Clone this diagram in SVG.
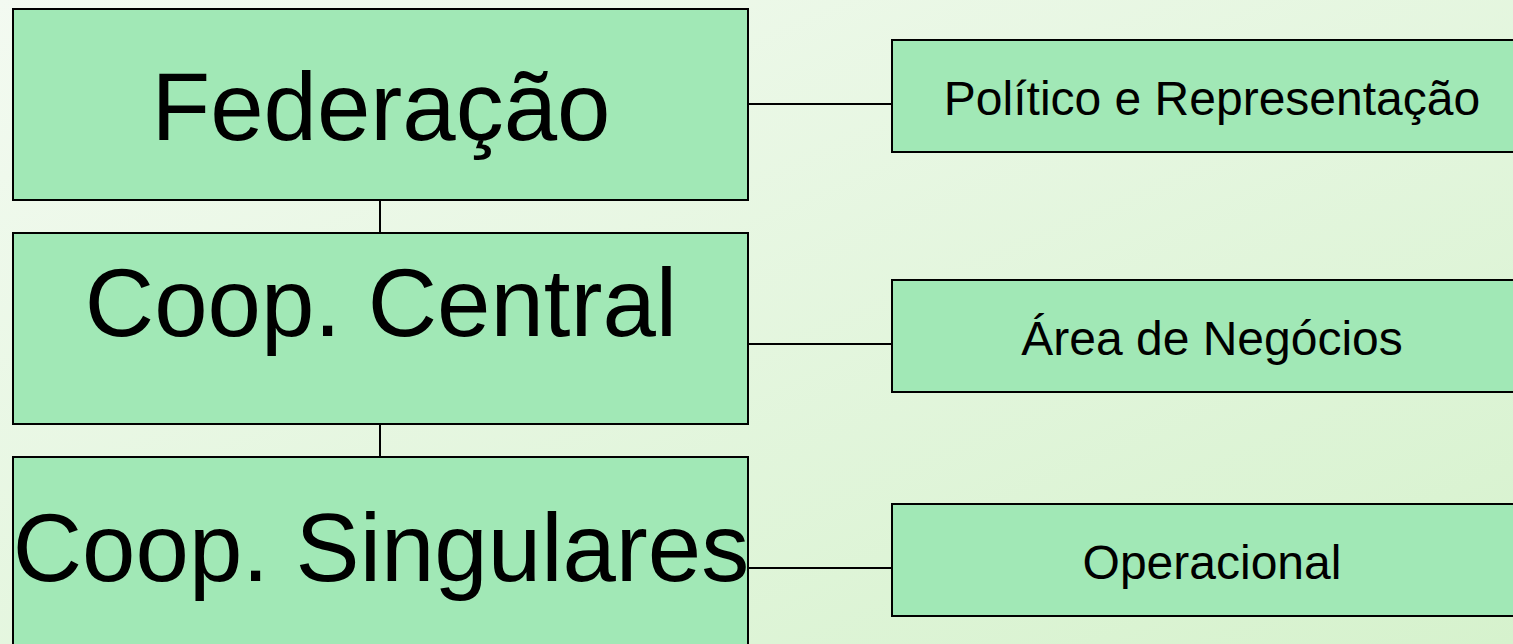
<svg xmlns="http://www.w3.org/2000/svg" width="1513" height="644" viewBox="0 0 1513 644">
<defs>
<linearGradient id="bg" x1="0" y1="0" x2="1" y2="1">
<stop offset="0" stop-color="#f3faf1"/>
<stop offset="1" stop-color="#d6f2cd"/>
</linearGradient>
</defs>
<style>
.box{fill:#a1e8b6;stroke:#000;stroke-width:2}
.big{font-family:"Liberation Sans",Arial,sans-serif;font-size:96px;fill:#000;text-anchor:middle}
.small{font-family:"Liberation Sans",Arial,sans-serif;font-size:48px;fill:#000;text-anchor:middle}
.conn{stroke:#000;stroke-width:2;fill:none}
</style>
<rect x="0" y="0" width="1513" height="644" fill="url(#bg)"/>
<g id="connectors">
<line class="conn" x1="380" y1="200" x2="380" y2="233"/>
<line class="conn" x1="380" y1="424" x2="380" y2="457"/>
<line class="conn" x1="748" y1="104" x2="892" y2="104"/>
<line class="conn" x1="748" y1="344" x2="892" y2="344"/>
<line class="conn" x1="748" y1="568" x2="892" y2="568"/>
</g>
<g id="federacao">
<rect class="box" x="13" y="9" width="735" height="191"/>
<text class="big" x="381" y="140">Federação</text>
</g>
<g id="coop-central">
<rect class="box" x="13" y="233" width="735" height="191"/>
<text class="big" x="381" y="336">Coop. Central</text>
</g>
<g id="coop-singulares">
<rect class="box" x="13" y="457" width="735" height="191"/>
<text class="big" x="381" y="581">Coop. Singulares</text>
</g>
<g id="politico">
<rect class="box" x="892" y="40" width="640" height="112"/>
<text class="small" x="1212" y="115">Político e Representação</text>
</g>
<g id="negocios">
<rect class="box" x="892" y="280" width="640" height="112"/>
<text class="small" x="1212" y="355">Área de Negócios</text>
</g>
<g id="operacional">
<rect class="box" x="892" y="504" width="640" height="112"/>
<text class="small" x="1212" y="579">Operacional</text>
</g>
</svg>
